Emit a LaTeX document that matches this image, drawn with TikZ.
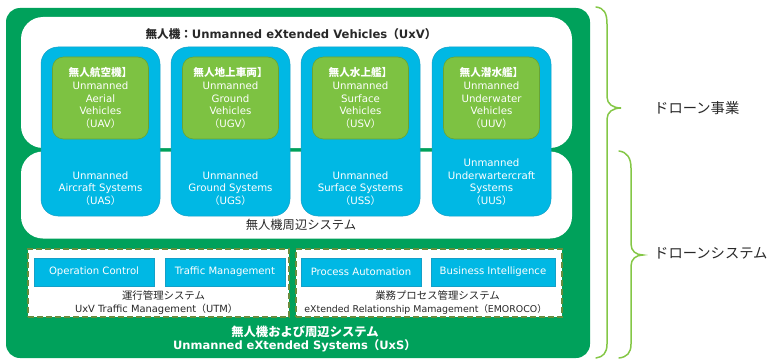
\documentclass[tikz,border=0pt]{standalone}
\usepackage{fontspec}
\setmainfont{DejaVu Sans}
\newfontfamily\jp{Noto Sans CJK JP}
\definecolor{dkgreen}{RGB}{0,161,91}
\definecolor{cyanb}{RGB}{0,184,228}
\definecolor{cyanbd}{RGB}{20,160,200}
\definecolor{ltgreen}{RGB}{125,194,66}
\definecolor{ltgreenbd}{RGB}{104,164,52}
\definecolor{bracegreen}{RGB}{132,199,70}
\definecolor{dashbd}{RGB}{104,140,60}
\definecolor{txt}{RGB}{40,40,40}
\begin{document}
\begin{tikzpicture}[x=1pt,y=-1pt,
  outerbox/.style={fill=dkgreen, draw=none, rounded corners=14pt, inner sep=0pt},
  whitebox/.style={fill=white, draw=none, rounded corners=22pt, inner sep=0pt},
  vehbox/.style={fill=cyanb, draw=cyanbd, line width=0.5pt, rounded corners=17pt, inner sep=0pt, minimum width=119pt, minimum height=169pt},
  innerbox/.style={fill=ltgreen, draw=ltgreenbd, line width=0.6pt, rounded corners=11pt, inner sep=0pt, minimum width=96pt, minimum height=82pt},
  dashbox/.style={fill=white, draw=dashbd, line width=1.8pt, dash pattern=on 6pt off 3pt, inner sep=0pt, minimum height=68pt},
  smallbox/.style={fill=cyanb, draw=cyanbd, line width=0.6pt, inner sep=0pt, minimum height=28pt, text=white, font=\fontsize{10.1}{12}\selectfont},
  wtxt/.style={text=white, align=center, inner sep=0pt, font=\fontsize{10.2}{12.6}\selectfont},
  dtxt/.style={text=txt, align=center, inner sep=0pt},
  brace/.style={draw=bracegreen, line width=1.5pt, line cap=round}
]
\useasboundingbox (0,0) rectangle (768,361);

% outer green container
\node[outerbox, minimum width=584pt, minimum height=350pt] (uxs) at (298,183) {};

% white areas
\node[whitebox, minimum width=551pt, minimum height=131pt] (uxv) at (296.5,82.5) {};
\node[whitebox, minimum width=551pt, minimum height=87pt] (periph) at (296.5,195) {};

% title
\node[dtxt, font=\bfseries\fontsize{11.6}{13}\selectfont] (title) at (291,34) {{\jp 無人機：}Unmanned eXtended Vehicles{\jp （}UxV{\jp ）}};

% vehicle boxes
\foreach \n/\cx in {a/100.5, g/230.5, s/360.5, u/491.5}{
  \node[vehbox] (veh\n) at (\cx,131.5) {};
  \node[innerbox] (in\n) at (\cx,98) {};
}

% inner texts
\node[wtxt] (tuav) at (ina) {{\jp\bfseries\fontsize{10.6}{12.6}\selectfont 無人航空機】}\\Unmanned\\Aerial\\Vehicles\\{\jp （}UAV{\jp ）}};
\node[wtxt] (tugv) at (ing) {{\jp\bfseries\fontsize{10.6}{12.6}\selectfont 無人地上車両】}\\Unmanned\\Ground\\Vehicles\\{\jp （}UGV{\jp ）}};
\node[wtxt] (tusv) at (ins) {{\jp\bfseries\fontsize{10.6}{12.6}\selectfont 無人水上艦】}\\Unmanned\\Surface\\Vehicles\\{\jp （}USV{\jp ）}};
\node[wtxt] (tuuv) at (inu) {{\jp\bfseries\fontsize{10.6}{12.6}\selectfont 無人潜水艦】}\\Unmanned\\Underwater\\Vehicles\\{\jp （}UUV{\jp ）}};

% system texts
\node[wtxt] (tuas) at (100.5,188.5) {Unmanned\\Aircraft Systems\\{\jp （}UAS{\jp ）}};
\node[wtxt] (tugs) at (230.5,188.5) {Unmanned\\Ground Systems\\{\jp （}UGS{\jp ）}};
\node[wtxt] (tuss) at (360.5,188.5) {Unmanned\\Surface Systems\\{\jp （}USS{\jp ）}};
\node[wtxt] (tuus) at (491.5,182) {Unmanned\\Underwartercraft\\Systems\\{\jp （}UUS{\jp ）}};

\node[dtxt, font=\jp\fontsize{12.3}{14}\selectfont] (tperiph) at (301,225) {無人機周辺システム};

% dashed groups
\node[dashbox, minimum width=261pt] (utm) at (158.5,283) {};
\node[dashbox, minimum width=266pt] (emo) at (429,283) {};

\node[smallbox, minimum width=120pt] (opc) at (94,272) {Operation Control};
\node[smallbox, minimum width=120pt] (trm) at (225,272) {Traffic Management};
\node[smallbox, minimum width=120pt] (pra) at (361,272) {Process Automation};
\node[smallbox, minimum width=124pt] (bis) at (493,272) {Business Intelligence};

\node[dtxt, font=\jp\fontsize{10.4}{12}\selectfont] (tutmj) at (163.5,296) {運行管理システム};
\node[dtxt, font=\fontsize{9.9}{12}\selectfont] (tutme) at (156.5,309) {UxV Traffic Management{\jp （}UTM{\jp ）}};
\node[dtxt, font=\jp\fontsize{10.4}{12}\selectfont] (temoj) at (437.5,296) {業務プロセス管理システム};
\node[dtxt, font=\fontsize{9.4}{12}\selectfont] (temoe) at (425.5,309) {eXtended Relationship Mamagement{\jp （}EMOROCO{\jp ）}};

% bottom title
\node[text=white, inner sep=0pt, font=\jp\bfseries\fontsize{12.3}{14}\selectfont] (tuxsj) at (305,332) {無人機および周辺システム};
\node[text=white, inner sep=0pt, font=\bfseries\fontsize{11.5}{13}\selectfont] (tuxse) at (294.5,346) {Unmanned eXtended Systems{\jp （}UxS{\jp ）}};

% braces
\coordinate (b1top) at (596,7);
\coordinate (b1tip) at (621,108);
\coordinate (b1bot) at (596,358);
\draw[brace] (b1top) .. controls (604,8) and (607,13) .. (607,24) -- (607,97)
  .. controls (607,104) and (613,108) .. (b1tip)
  .. controls (613,108) and (607,112) .. (607,119) -- (607,344)
  .. controls (607,353) and (603,357) .. (b1bot);
\coordinate (b2top) at (619,151);
\coordinate (b2tip) at (643,255);
\coordinate (b2bot) at (619,358);
\draw[brace] (b2top) .. controls (627,152) and (631,158) .. (631,168) -- (631,244)
  .. controls (631,251) and (636,255) .. (b2tip)
  .. controls (636,255) and (631,259) .. (631,266) -- (631,344)
  .. controls (631,353) and (627,357) .. (b2bot);

\node[dtxt, anchor=west, font=\jp\fontsize{14.3}{16}\selectfont] (drbiz) at (654,108) {ドローン事業};
\node[dtxt, anchor=west, font=\jp\fontsize{14.3}{16}\selectfont] (drsys) at (654,253) {ドローンシステム};
\end{tikzpicture}
\end{document}
